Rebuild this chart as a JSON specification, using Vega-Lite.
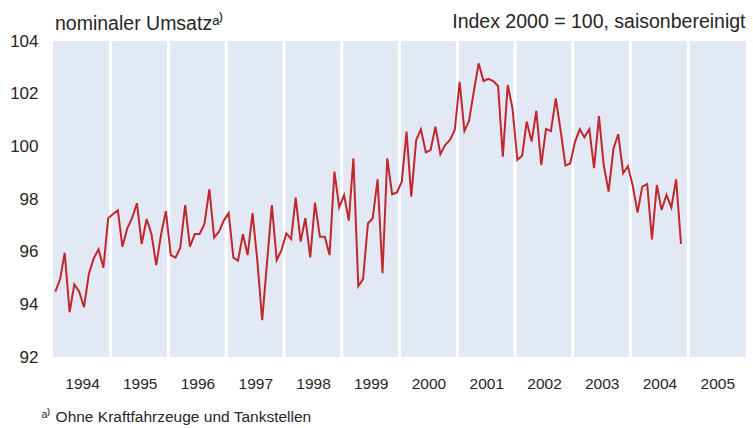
{
  "$schema": "https://vega.github.io/schema/vega-lite/v6.json",
  "width": 693,
  "height": 316,
  "autosize": "none",
  "padding": {"left": 53, "top": 41, "right": 7, "bottom": 71},
  "background": "white",
  "config": {
    "view": {"fill": "#e2e9f4", "stroke": null},
    "font": "Liberation Sans, Arial, sans-serif"
  },
  "title": {
    "text": "nominaler Umsatzᵃ⁾",
    "anchor": "start",
    "frame": "group",
    "baseline": "alphabetic",
    "offset": 14,
    "dy": 52,
    "dx": 2,
    "fontSize": 19.5,
    "fontWeight": "normal",
    "color": "#262626"
  },
  "datasets": {
    "bounds": [
      {"d": "1995-01-01"}, {"d": "1996-01-01"}, {"d": "1997-01-01"}, {"d": "1998-01-01"},
      {"d": "1999-01-01"}, {"d": "2000-01-01"}, {"d": "2001-01-01"}, {"d": "2002-01-01"},
      {"d": "2003-01-01"}, {"d": "2004-01-01"}, {"d": "2005-01-01"}
    ],
    "series": [
      {"d": "1994-01-16", "v": 94.48}, {"d": "1994-02-15", "v": 94.96}, {"d": "1994-03-16", "v": 95.96}, {"d": "1994-04-16", "v": 93.70},
      {"d": "1994-05-16", "v": 94.76}, {"d": "1994-06-16", "v": 94.48}, {"d": "1994-07-16", "v": 93.89}, {"d": "1994-08-16", "v": 95.16},
      {"d": "1994-09-16", "v": 95.75}, {"d": "1994-10-16", "v": 96.09}, {"d": "1994-11-16", "v": 95.39}, {"d": "1994-12-16", "v": 97.27},
      {"d": "1995-01-16", "v": 97.43}, {"d": "1995-02-15", "v": 97.57}, {"d": "1995-03-16", "v": 96.19}, {"d": "1995-04-16", "v": 96.89},
      {"d": "1995-05-16", "v": 97.27}, {"d": "1995-06-16", "v": 97.84}, {"d": "1995-07-16", "v": 96.29}, {"d": "1995-08-16", "v": 97.24},
      {"d": "1995-09-16", "v": 96.66}, {"d": "1995-10-16", "v": 95.49}, {"d": "1995-11-16", "v": 96.67}, {"d": "1995-12-16", "v": 97.54},
      {"d": "1996-01-16", "v": 95.87}, {"d": "1996-02-15", "v": 95.77}, {"d": "1996-03-16", "v": 96.15}, {"d": "1996-04-16", "v": 97.77},
      {"d": "1996-05-16", "v": 96.19}, {"d": "1996-06-16", "v": 96.67}, {"d": "1996-07-16", "v": 96.67}, {"d": "1996-08-16", "v": 97.05},
      {"d": "1996-09-16", "v": 98.37}, {"d": "1996-10-16", "v": 96.54}, {"d": "1996-11-16", "v": 96.76}, {"d": "1996-12-16", "v": 97.18},
      {"d": "1997-01-16", "v": 97.46}, {"d": "1997-02-15", "v": 95.77}, {"d": "1997-03-16", "v": 95.66}, {"d": "1997-04-16", "v": 96.66},
      {"d": "1997-05-16", "v": 95.87}, {"d": "1997-06-16", "v": 97.46}, {"d": "1997-07-16", "v": 95.68}, {"d": "1997-08-16", "v": 93.40},
      {"d": "1997-09-16", "v": 95.60}, {"d": "1997-10-16", "v": 97.77}, {"d": "1997-11-16", "v": 95.68}, {"d": "1997-12-16", "v": 96.06},
      {"d": "1998-01-16", "v": 96.70}, {"d": "1998-02-15", "v": 96.48}, {"d": "1998-03-16", "v": 98.05}, {"d": "1998-04-16", "v": 96.38},
      {"d": "1998-05-16", "v": 97.27}, {"d": "1998-06-16", "v": 95.78}, {"d": "1998-07-16", "v": 97.86}, {"d": "1998-08-16", "v": 96.57},
      {"d": "1998-09-16", "v": 96.57}, {"d": "1998-10-16", "v": 95.87}, {"d": "1998-11-16", "v": 99.04}, {"d": "1998-12-16", "v": 97.68},
      {"d": "1999-01-16", "v": 98.15}, {"d": "1999-02-15", "v": 97.18}, {"d": "1999-03-16", "v": 99.54}, {"d": "1999-04-16", "v": 94.69},
      {"d": "1999-05-16", "v": 94.96}, {"d": "1999-06-16", "v": 97.07}, {"d": "1999-07-16", "v": 97.27}, {"d": "1999-08-16", "v": 98.75},
      {"d": "1999-09-16", "v": 95.18}, {"d": "1999-10-16", "v": 99.54}, {"d": "1999-11-16", "v": 98.18}, {"d": "1999-12-16", "v": 98.25},
      {"d": "2000-01-16", "v": 98.66}, {"d": "2000-02-15", "v": 100.56}, {"d": "2000-03-16", "v": 98.09}, {"d": "2000-04-16", "v": 100.24},
      {"d": "2000-05-16", "v": 100.65}, {"d": "2000-06-16", "v": 99.77}, {"d": "2000-07-16", "v": 99.86}, {"d": "2000-08-16", "v": 100.75},
      {"d": "2000-09-16", "v": 99.70}, {"d": "2000-10-16", "v": 100.05}, {"d": "2000-11-16", "v": 100.24}, {"d": "2000-12-16", "v": 100.62},
      {"d": "2001-01-16", "v": 102.45}, {"d": "2001-02-15", "v": 100.58}, {"d": "2001-03-16", "v": 100.96}, {"d": "2001-04-16", "v": 102.10},
      {"d": "2001-05-16", "v": 103.15}, {"d": "2001-06-16", "v": 102.48}, {"d": "2001-07-16", "v": 102.56}, {"d": "2001-08-16", "v": 102.48},
      {"d": "2001-09-16", "v": 102.29}, {"d": "2001-10-16", "v": 99.61}, {"d": "2001-11-16", "v": 102.33}, {"d": "2001-12-16", "v": 101.44},
      {"d": "2002-01-16", "v": 99.48}, {"d": "2002-02-15", "v": 99.64}, {"d": "2002-03-16", "v": 100.94}, {"d": "2002-04-16", "v": 100.18},
      {"d": "2002-05-16", "v": 101.35}, {"d": "2002-06-16", "v": 99.29}, {"d": "2002-07-16", "v": 100.66}, {"d": "2002-08-16", "v": 100.58},
      {"d": "2002-09-16", "v": 101.82}, {"d": "2002-10-16", "v": 100.62}, {"d": "2002-11-16", "v": 99.27}, {"d": "2002-12-16", "v": 99.35},
      {"d": "2003-01-16", "v": 100.18}, {"d": "2003-02-15", "v": 100.65}, {"d": "2003-03-16", "v": 100.34}, {"d": "2003-04-16", "v": 100.65},
      {"d": "2003-05-16", "v": 99.17}, {"d": "2003-06-16", "v": 101.15}, {"d": "2003-07-16", "v": 99.29}, {"d": "2003-08-16", "v": 98.28},
      {"d": "2003-09-16", "v": 99.92}, {"d": "2003-10-16", "v": 100.46}, {"d": "2003-11-16", "v": 98.98}, {"d": "2003-12-16", "v": 99.25},
      {"d": "2004-01-16", "v": 98.50}, {"d": "2004-02-15", "v": 97.48}, {"d": "2004-03-16", "v": 98.47}, {"d": "2004-04-16", "v": 98.57},
      {"d": "2004-05-16", "v": 96.47}, {"d": "2004-06-16", "v": 98.53}, {"d": "2004-07-16", "v": 97.58}, {"d": "2004-08-16", "v": 98.15},
      {"d": "2004-09-16", "v": 97.68}, {"d": "2004-10-16", "v": 98.75}, {"d": "2004-11-16", "v": 96.29}
    ]
  },
  "encoding": {
    "x": {
      "field": "d",
      "type": "temporal",
      "scale": {
        "type": "utc",
        "domain": [
          {"year": 1994, "month": 1, "date": 1, "utc": true},
          {"year": 2006, "month": 1, "date": 1, "utc": true}
        ]
      },
      "axis": {
        "values": [
          {"year": 1994, "month": 1, "date": 1, "utc": true},
          {"year": 1995, "month": 1, "date": 1, "utc": true},
          {"year": 1996, "month": 1, "date": 1, "utc": true},
          {"year": 1997, "month": 1, "date": 1, "utc": true},
          {"year": 1998, "month": 1, "date": 1, "utc": true},
          {"year": 1999, "month": 1, "date": 1, "utc": true},
          {"year": 2000, "month": 1, "date": 1, "utc": true},
          {"year": 2001, "month": 1, "date": 1, "utc": true},
          {"year": 2002, "month": 1, "date": 1, "utc": true},
          {"year": 2003, "month": 1, "date": 1, "utc": true},
          {"year": 2004, "month": 1, "date": 1, "utc": true},
          {"year": 2005, "month": 1, "date": 1, "utc": true}
        ],
        "format": "%Y",
        "labelAlign": "center",
        "labelOffset": 29,
        "labelFlush": false,
        "labelOverlap": false,
        "ticks": false,
        "domain": false,
        "grid": false,
        "labelFontSize": 15.5,
        "labelPadding": 19,
        "labelColor": "#262626",
        "title": "ᵃ⁾ Ohne Kraftfahrzeuge und Tankstellen",
        "titleAnchor": "start",
        "titleAlign": "left",
        "titleBaseline": "alphabetic",
        "titleX": -12,
        "titleY": 64,
        "titleFontSize": 15.5,
        "titleFontWeight": "normal",
        "titleColor": "#262626"
      }
    }
  },
  "layer": [
    {
      "data": {"name": "bounds"},
      "mark": {"type": "rule", "color": "white", "strokeWidth": 3}
    },
    {
      "data": {"name": "series"},
      "mark": {"type": "line", "color": "#c1272d", "strokeWidth": 2},
      "encoding": {
        "y": {
          "field": "v",
          "type": "quantitative",
          "scale": {"domain": [92, 104], "nice": false, "zero": false},
          "axis": {
            "values": [92, 94, 96, 98, 100, 102, 104],
            "ticks": false,
            "domain": false,
            "grid": false,
            "labelFontSize": 17,
            "labelPadding": 15,
            "labelColor": "#262626",
            "title": "Index 2000 = 100, saisonbereinigt",
            "titleAngle": 0,
            "titleAlign": "right",
            "titleBaseline": "alphabetic",
            "titleX": 692,
            "titleY": -14,
            "titleFontSize": 19.5,
            "titleFontWeight": "normal",
            "titleColor": "#262626"
          }
        }
      }
    }
  ]
}
